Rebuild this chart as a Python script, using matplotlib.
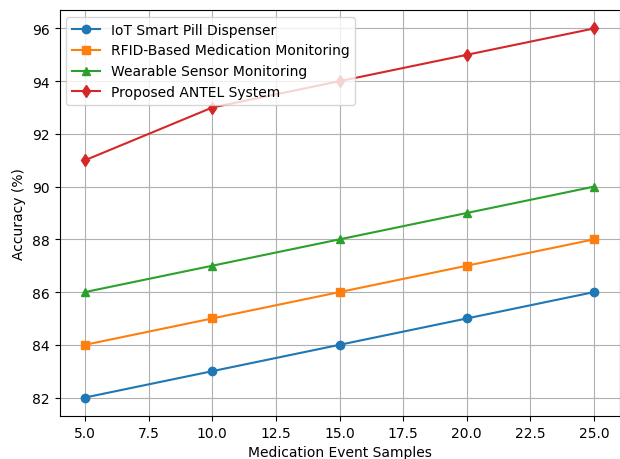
import matplotlib
matplotlib.use("Agg")
import matplotlib.pyplot as plt

samples = [5, 10, 15, 20, 25]
iot = [82, 83, 84, 85, 86]
rfid = [84, 85, 86, 87, 88]
wearable = [86, 87, 88, 89, 90]
antel = [91, 93, 94, 95, 96]

fig, ax = plt.subplots(figsize=(6.2, 4.6), dpi=100)
ax.plot(samples, iot, marker='o', label='IoT Smart Pill Dispenser')
ax.plot(samples, rfid, marker='s', label='RFID-Based Medication Monitoring')
ax.plot(samples, wearable, marker='^', label='Wearable Sensor Monitoring')
ax.plot(samples, antel, marker='d', label='Proposed ANTEL System')
ax.set_xlabel('Medication Event Samples')
ax.set_ylabel('Accuracy (%)')
ax.grid(True)
ax.legend(loc='upper left')
fig.subplots_adjust(left=59.5/620, right=619.5/620, top=1-11/460, bottom=1-417/460)
fig.savefig('out.png')
